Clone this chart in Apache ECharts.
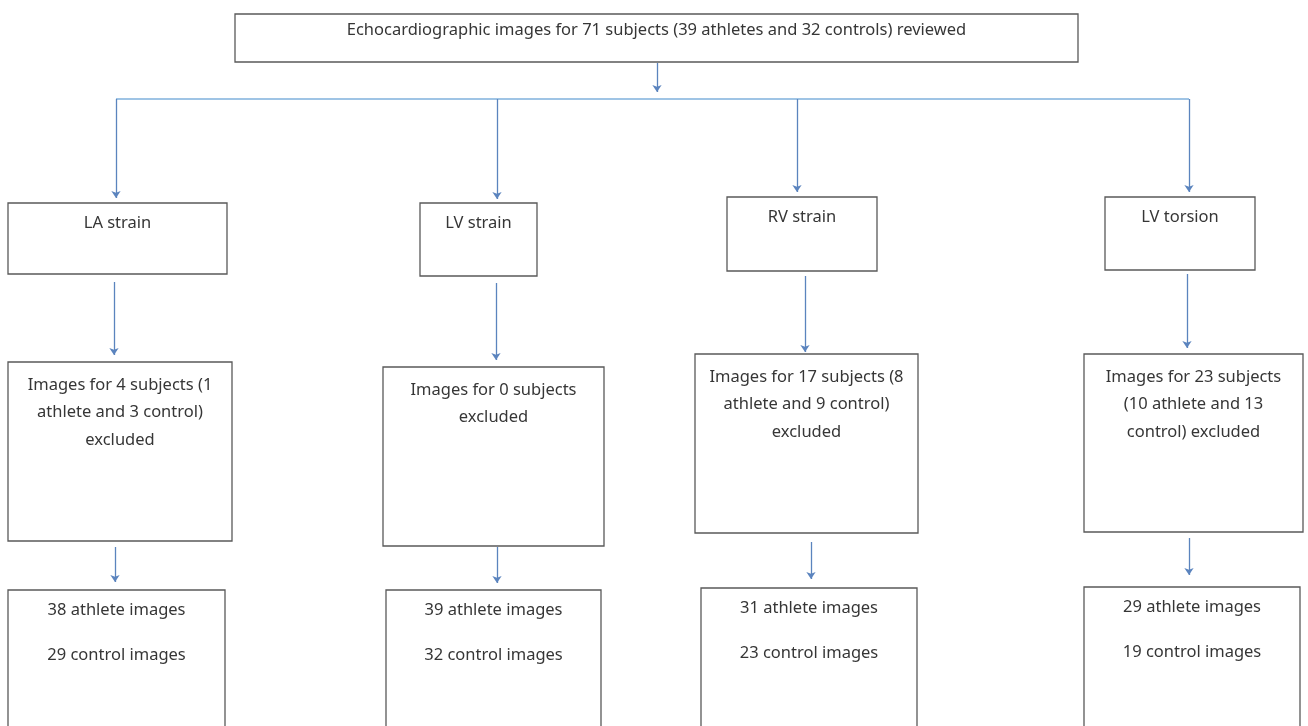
<!DOCTYPE html>
<html>
<head>
<meta charset="utf-8">
<script src="https://cdn.jsdelivr.net/npm/echarts@6/dist/echarts.min.js"></script>
<style>
html,body{margin:0;padding:0;background:#fff;}
#chart{width:1308px;height:726px;}
</style>
</head>
<body>
<div id="chart"></div>
<script>
// ---- Flowchart content ----
const boxLabels = [
  ["Echocardiographic images for 71 subjects (39 athletes and 32 controls) reviewed"],
  ["LA strain"],
  ["LV strain"],
  ["RV strain"],
  ["LV torsion"],
  ["Images for 4 subjects (1", "athlete and 3 control)", "excluded"],
  ["Images for 0 subjects", "excluded"],
  ["Images for 17 subjects (8", "athlete and 9 control)", "excluded"],
  ["Images for 23 subjects", "(10 athlete and 13", "control) excluded"],
  ["38 athlete images", "29 control images"],
  ["39 athlete images", "32 control images"],
  ["31 athlete images", "23 control images"],
  ["29 athlete images", "19 control images"]
];
const boxLevel = [0, 1, 1, 1, 1, 2, 2, 2, 2, 3, 3, 3, 3];
// box corners in chart units (x: 0..1308, y: 0..726 from top)
const boxX0 = [235, 8, 420, 727, 1105, 8, 383, 695, 1084, 8, 386, 701, 1084];
const boxY0 = [14, 203, 203, 197, 197, 362, 367, 354, 354, 590, 590, 588, 587];
const boxX1 = [1078, 227, 537, 877, 1255, 232, 604, 918, 1303, 225, 601, 917, 1300];
const boxY1 = [62, 274, 276, 271, 270, 541, 546, 533, 532, 745, 745, 745, 745];

// arrows (vertical)
const arrowX  = [657, 116, 497, 797, 1189, 114, 496, 805, 1187, 115, 497, 811, 1189];
const arrowY0 = [63, 99, 99, 99, 99, 282, 283, 276, 274, 547, 547, 542, 538];
const arrowY1 = [92, 198, 199, 192, 192, 355, 360, 352, 348, 582, 583, 579, 575];

// horizontal distribution line
const busX = [116, 1189];
const busY = 99;

// ---- styles per level ----
const levelLineHeight = [20, 20, 27.5, 45];
const levelFirstLineOffset = [16, 20, 23, 20];

const chart = echarts.init(document.getElementById('chart'), null, {renderer: 'canvas'});

const boxData = boxLabels.map((l, i) => [boxX0[i], boxY0[i], boxX1[i], boxY1[i], i]);
const arrowData = arrowX.map((x, i) => ({coords: [[x, arrowY0[i]], [x, arrowY1[i]]]}));

chart.setOption({
  animation: false,
  backgroundColor: '#ffffff',
  grid: {left: 0, right: 0, top: 0, bottom: 0},
  xAxis: {type: 'value', min: 0, max: 1308, show: false},
  yAxis: {type: 'value', min: 0, max: 726, inverse: true, show: false},
  series: [
    {
      type: 'custom',
      coordinateSystem: 'cartesian2d',
      data: boxData,
      clip: false,
      renderItem: function (params, api) {
        const i = api.value(4);
        const p0 = api.coord([api.value(0), api.value(1)]);
        const p1 = api.coord([api.value(2), api.value(3)]);
        const lvl = boxLevel[i];
        const lh = levelLineHeight[lvl];
        const cx = (p0[0] + p1[0]) / 2;
        const ty = p0[1] + levelFirstLineOffset[lvl] - lh / 2;
        return {
          type: 'group',
          children: [
            {
              type: 'rect',
              shape: {x: p0[0], y: p0[1], width: p1[0] - p0[0], height: p1[1] - p0[1]},
              style: {fill: '#ffffff', stroke: '#595959', lineWidth: 1.3}
            },
            {
              type: 'text',
              x: cx,
              y: ty,
              style: {
                text: boxLabels[i].join('\n'),
                fontFamily: 'Noto Sans',
                fontSize: 16.5,
                lineHeight: lh,
                fill: '#363636',
                align: 'center',
                verticalAlign: 'top'
              }
            }
          ]
        };
      }
    },
    {
      type: 'lines',
      coordinateSystem: 'cartesian2d',
      data: [{coords: [[busX[0], busY], [busX[1], busY]]}],
      symbol: ['none', 'none'],
      lineStyle: {color: '#7fb0dc', width: 1.5, opacity: 1}
    },
    {
      type: 'lines',
      coordinateSystem: 'cartesian2d',
      data: arrowData,
      symbol: ['none', 'arrow'],
      symbolSize: 7,
      lineStyle: {color: '#5b84be', width: 1.3, opacity: 1}
    }
  ]
});
</script>
</body>
</html>
